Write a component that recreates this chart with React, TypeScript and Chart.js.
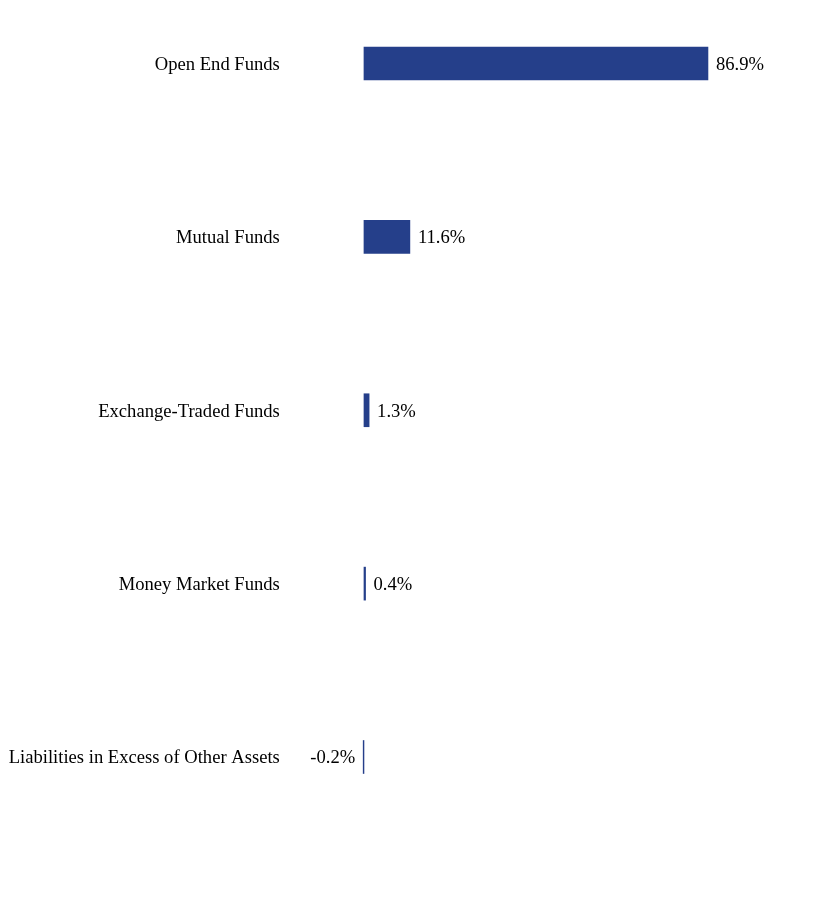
import React, { useEffect, useRef } from "react";
import { Chart, registerables } from "chart.js";

Chart.register(...registerables);

const categories = [
  "Open End Funds",
  "Mutual Funds",
  "Exchange-Traded Funds",
  "Money Market Funds",
  "Liabilities in Excess of Other Assets",
];
const values = [86.9, 11.6, 1.3, 0.4, -0.2];
const valueLabels = ["86.9%", "11.6%", "1.3%", "0.4%", "-0.2%"];

const BAR_COLOR = "#253F8A";
const FONT = "'Liberation Serif', 'Times New Roman', serif";
const FONT_SIZE = 18.6;

const valueLabelPlugin = {
  id: "valueLabels",
  afterDatasetsDraw(chart: any) {
    const ctx = chart.ctx;
    const meta = chart.getDatasetMeta(0);
    ctx.save();
    ctx.font = `${FONT_SIZE}px ${FONT}`;
    ctx.fillStyle = "#000000";
    ctx.textBaseline = "middle";
    meta.data.forEach((bar: any, i: number) => {
      const v = values[i];
      if (v >= 0) {
        ctx.textAlign = "left";
        ctx.fillText(valueLabels[i], bar.x + 8, bar.y + 1.5);
      } else {
        ctx.textAlign = "right";
        ctx.fillText(valueLabels[i], bar.x - 8, bar.y + 1.5);
      }
    });
    ctx.restore();
  },
};

export default function App() {
  const ref = useRef<HTMLCanvasElement | null>(null);
  useEffect(() => {
    if (!ref.current) return;
    const chart = new Chart(ref.current, {
      type: "bar",
      data: {
        labels: categories,
        datasets: [
          {
            data: values,
            backgroundColor: BAR_COLOR,
            borderWidth: 0,
            barThickness: 33,
            clip: false,
          } as any,
        ],
      },
      options: {
        indexAxis: "y",
        animation: false,
        responsive: true,
        maintainAspectRatio: false,
        layout: { padding: { top: 55.5, bottom: 135, left: 0, right: 8.6 } },
        plugins: {
          legend: { display: false },
          tooltip: { enabled: false },
        },
        scales: {
          x: {
            display: false,
            min: -20,
            max: 110,
          },
          y: {
            offset: false,
            grid: { display: false, drawTicks: false },
            border: { display: false },
            ticks: {
              padding: 5,
              labelOffset: 1.5,
              color: "#000000",
              font: { family: FONT, size: FONT_SIZE },
            },
            afterFit: (scale: any) => {
              scale.width = 276.8;
            },
          },
        },
      },
      plugins: [valueLabelPlugin],
    });
    return () => chart.destroy();
  }, []);
  return (
    <div style={{ width: 800, height: 884, position: "relative" }}>
      <canvas ref={ref} />
    </div>
  );
}
